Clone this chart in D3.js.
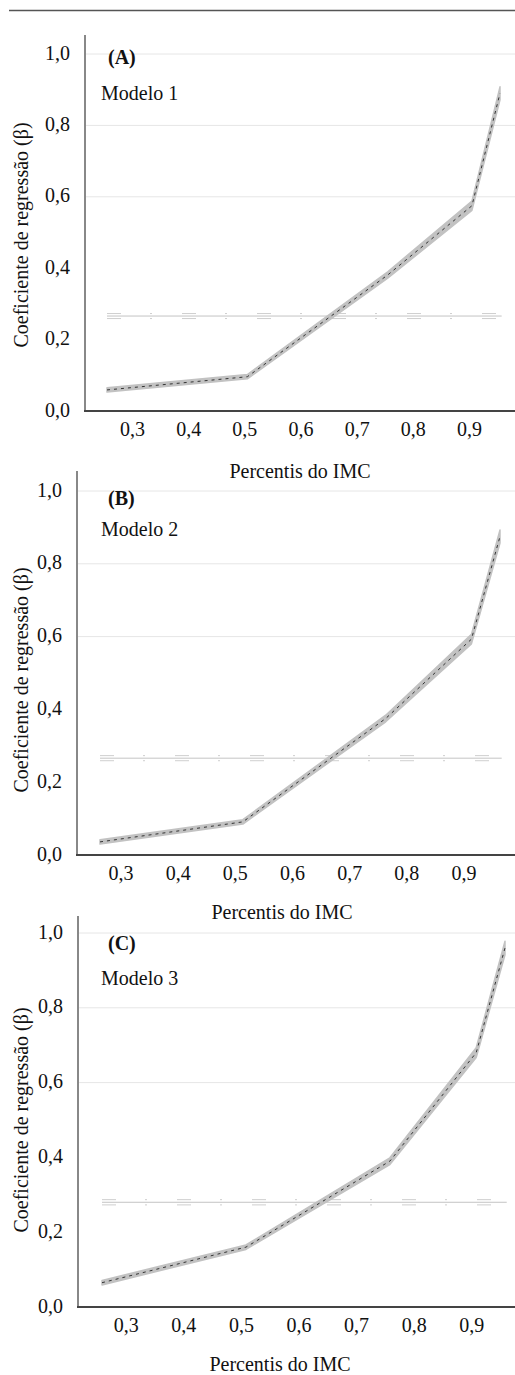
<!DOCTYPE html>
<html>
<head>
<meta charset="utf-8">
<style>
  body { margin: 0; background: #fff; }
  svg { display: block; }
</style>
</head>
<body>
<svg width="515" height="1375"></svg>

<script src="https://d3js.org/d3.v7.min.js"></script>
<script>
  // percentiles of BMI where the quantile regressions were fitted
  const percentis = [0.25, 0.5, 0.75, 0.9, 0.95];

  // quantile regression coefficients (beta) and their confidence band
  const beta1 = [0.059, 0.096, 0.381, 0.575, 0.89];
  const beta1Low = [0.053, 0.090, 0.372, 0.562, 0.872];
  const beta1High = [0.065, 0.102, 0.390, 0.588, 0.908];

  const beta2 = [0.036, 0.091, 0.375, 0.593, 0.875];
  const beta2Low = [0.030, 0.085, 0.366, 0.580, 0.857];
  const beta2High = [0.042, 0.097, 0.384, 0.606, 0.893];

  const beta3 = [0.065, 0.16, 0.39, 0.68, 0.96];
  const beta3Low = [0.059, 0.154, 0.381, 0.667, 0.942];
  const beta3High = [0.071, 0.166, 0.399, 0.693, 0.978];

  // linear (OLS) coefficient with its interval
  const ols = [0.266, 0.266, 0.28];
  const olsLow = [0.259, 0.259, 0.273];
  const olsHigh = [0.273, 0.273, 0.287];

  const yTicks = [0, 0.2, 0.4, 0.6, 0.8, 1.0];
  const gridTicks = [0.6, 0.8, 1.0];
  const xTicks = [0.3, 0.4, 0.5, 0.6, 0.7, 0.8, 0.9];
  const panelLabels = ["(A)", "(B)", "(C)"];
  const modelLabels = ["Modelo 1", "Modelo 2", "Modelo 3"];
  const xTitle = "Percentis do IMC";
  const yTitle = "Coeficiente de regressão (β)";

  const FS = 20;
  const FONT = '"Liberation Serif", serif';

  let svg = d3.select("svg");

  // rule at the very top
  svg.append("line")
    .attr("x1", 9).attr("x2", 515)
    .attr("y1", 10.5).attr("y2", 10.5)
    .attr("stroke", "#555").attr("stroke-width", 1.5);

  let panels = [
    { left: 85, axisTop: 35, y1: 54, y0: 411, xa: 107, xb: 500, tickDx: -3, titleX: 300, titleY: 471, yTitleY: 235, lblY: 57, modY: 93,
      est: beta1, lo: beta1Low, hi: beta1High },
    { left: 77, axisTop: 471, y1: 491, y0: 855, xa: 100, xb: 500, tickDx: -8, titleX: 282, titleY: 912, yTitleY: 680, lblY: 498, modY: 529,
      est: beta2, lo: beta2Low, hi: beta2High },
    { left: 78, axisTop: 916, y1: 933, y0: 1307, xa: 102, xb: 505, tickDx: -5, titleX: 280, titleY: 1364, yTitleY: 1120, lblY: 943, modY: 978,
      est: beta3, lo: beta3Low, hi: beta3High }
  ];

  const fmt = d => d.toFixed(1).replace(".", ",");

  function label(g, s, x, y, opts = {}) {
    let rot = opts.rotate ? ` rotate(${opts.rotate})` : "";
    return g.append("text")
      .attr("transform", `translate(${x},${y})${rot}`)
      .attr("dy", "0.35em")
      .attr("text-anchor", opts.anchor || "start")
      .attr("font-family", FONT)
      .attr("font-size", FS)
      .attr("font-weight", opts.bold ? "bold" : "normal")
      .attr("fill", "#111")
      .text(s);
  }

  panels.forEach((p, i) => {
    let g = svg.append("g");

    let x = d3.scaleLinear().domain([0.25, 0.95]).range([p.xa, p.xb]);
    let y = d3.scaleLinear().domain([0, 1]).range([p.y0, p.y1]);

    // light grid lines (only the upper ones are visible in the source)
    g.append("g").selectAll("line")
      .data(gridTicks)
      .join("line")
      .attr("x1", p.left).attr("x2", 515)
      .attr("y1", d => y(d)).attr("y2", d => y(d))
      .attr("stroke", "#e6e6e6").attr("stroke-width", 1);

    // y axis
    let yAxis = g.append("g")
      .attr("transform", `translate(${p.left},0)`)
      .call(d3.axisLeft(y).tickValues(yTicks).tickSize(0).tickPadding(15).tickFormat(fmt));
    yAxis.attr("font-family", FONT).attr("font-size", FS);
    yAxis.select(".domain").remove();
    yAxis.selectAll("text")
      .attr("dy", "0.25em")
      .attr("fill", "#111");

    g.append("line")
      .attr("x1", p.left).attr("x2", p.left)
      .attr("y1", p.axisTop).attr("y2", p.y0)
      .attr("stroke", "#888").attr("stroke-width", 2);

    // x axis
    let xAxis = g.append("g")
      .attr("transform", `translate(0,${p.y0})`)
      .call(d3.axisBottom(x).tickValues(xTicks).tickSize(0).tickPadding(0).tickFormat(fmt));
    xAxis.attr("font-family", FONT).attr("font-size", FS);
    xAxis.select(".domain").remove();
    xAxis.selectAll("text")
      .attr("y", 18)
      .attr("x", p.tickDx)
      .attr("dy", "0.35em")
      .attr("fill", "#111");

    g.append("line")
      .attr("x1", p.left - 1).attr("x2", 515)
      .attr("y1", p.y0).attr("y2", p.y0)
      .attr("stroke", "#444").attr("stroke-width", 2);

    // OLS coefficient: solid line with dashed interval bounds
    let xs = [0.25, 0.953];
    g.append("path")
      .attr("d", d3.line().x(d => x(d)).y(() => y(ols[i]))(xs))
      .attr("fill", "none").attr("stroke", "#c4c4c4").attr("stroke-width", 1);
    [olsLow[i], olsHigh[i]].forEach(v => {
      g.append("path")
        .attr("d", d3.line().x(d => x(d)).y(() => y(v))(xs))
        .attr("fill", "none").attr("stroke", "#c8c8c8").attr("stroke-width", 0.9)
        .attr("stroke-dasharray", "14,29,2,30");
    });

    // quantile regression band and estimate
    let rows = percentis.map((q, k) => ({ q, est: p.est[k], lo: p.lo[k], hi: p.hi[k] }));
    let area = d3.area().x(d => x(d.q)).y0(d => y(d.lo)).y1(d => y(d.hi));
    g.append("path")
      .attr("d", area(rows))
      .attr("fill", "#c2c2c2").attr("stroke", "#c2c2c2").attr("stroke-width", 1.5)
      .attr("stroke-linejoin", "round");
    g.append("path")
      .attr("d", d3.line().x(d => x(d.q)).y(d => y(d.est))(rows))
      .attr("fill", "none").attr("stroke", "#333").attr("stroke-width", 1)
      .attr("stroke-dasharray", "3,4");

    // texts
    label(g, panelLabels[i], 108, p.lblY, { bold: true });
    label(g, modelLabels[i], 101, p.modY);
    label(g, xTitle, p.titleX, p.titleY, { anchor: "middle" });
    label(g, yTitle, 21, p.yTitleY, { anchor: "middle", rotate: -90 });
  });
</script>
</body>
</html>
